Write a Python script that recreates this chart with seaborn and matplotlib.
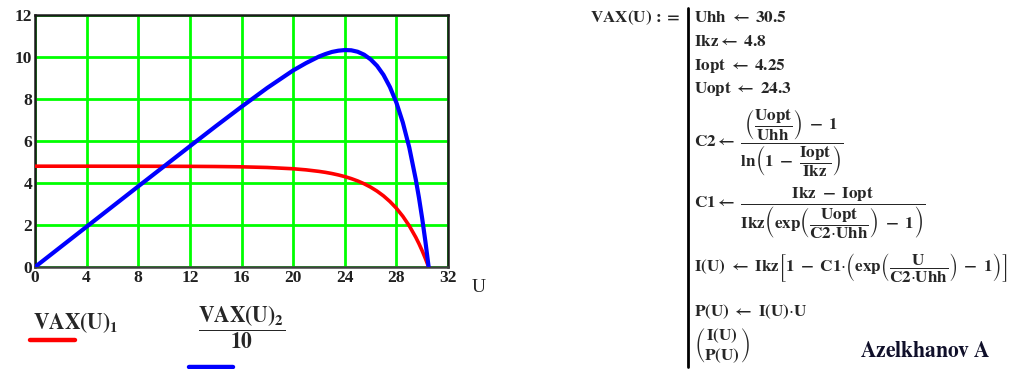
import numpy as np
import pandas as pd
import matplotlib
matplotlib.use("Agg")
import matplotlib.pyplot as plt
from matplotlib.lines import Line2D
import seaborn as sns

# Data (U in volts)
U_vals = [0, 4, 8, 12, 14, 16, 18, 20, 21, 22, 22.5, 23, 23.5, 24, 24.5, 25, 25.5, 26, 26.5,
          27, 27.5, 28, 28.5, 29, 29.5, 29.75, 30, 30.25, 30.5]
I_vals = [4.80, 4.80, 4.798, 4.793, 4.785, 4.770, 4.739, 4.678, 4.626, 4.553, 4.507, 4.451,
          4.384, 4.305, 4.210, 4.098, 3.963, 3.804, 3.614, 3.388, 3.118, 2.798, 2.414, 1.961,
          1.418, 1.110, 0.771, 0.400, 0.0]
P10_vals = [0.0, 1.92, 3.84, 5.75, 6.70, 7.63, 8.53, 9.36, 9.71, 10.02, 10.14, 10.24, 10.30,
            10.33, 10.32, 10.25, 10.11, 9.89, 9.58, 9.15, 8.57, 7.83, 6.88, 5.69, 4.18, 3.30,
            2.31, 1.21, 0.0]
x_ticks = [0, 4, 8, 12, 16, 20, 24, 28, 32]
y_ticks = [0, 2, 4, 6, 8, 10, 12]

df = pd.DataFrame({"U": U_vals, "I": I_vals, "P10": P10_vals})

sns.set_style("white")
plt.rcParams["font.family"] = ["Liberation Serif", "DejaVu Serif"]
plt.rcParams["mathtext.fontset"] = "stix"
plt.rcParams["mathtext.default"] = "bf"

W, H = 1024, 369
fig = plt.figure(figsize=(W / 100, H / 100), dpi=100)
ax = fig.add_axes([35 / W, 1 - 267 / H, (448 - 35) / W, (267 - 15) / H])

sns.lineplot(data=df, x="U", y="I", ax=ax, color="#ff0000", lw=2.6, zorder=3)
sns.lineplot(data=df, x="U", y="P10", ax=ax, color="#0000ff", lw=3.0, zorder=4)

ax.set_xlim(0, 32)
ax.set_ylim(0, 12)
ax.set_xticks(x_ticks)
ax.set_yticks(y_ticks)
ax.set_xticklabels([str(t) for t in x_ticks], fontsize=12.5, fontweight="bold", color="#202020")
ax.set_yticklabels([str(t) for t in y_ticks], fontsize=12.5, fontweight="bold", color="#202020")
ax.tick_params(axis="y", length=0, pad=2)
ax.tick_params(axis="x", length=0, pad=2)
ax.set_xlabel("")
ax.set_ylabel("")
ax.grid(True, color="#00ff00", lw=2)
ax.set_axisbelow(True)
for s in ax.spines.values():
    s.set_color("#1a1a1a")
    s.set_linewidth(1.8)
ax.spines["bottom"].set_color("#404040")

def fx(x):
    return x / W

def fy(y):
    return 1 - y / H

fig.text(fx(472), fy(287), "U", fontsize=14, ha="left", va="center")

# legend-like labels under the plot
fig.text(fx(33), fy(323), r"$VAX(U)_1$", fontsize=15.5, ha="left", va="center")
fig.add_artist(Line2D([fx(30), fx(75)], [fy(340), fy(340)], color="#ff0000", lw=3.2))
fig.text(fx(242), fy(327), r"$\dfrac{VAX(U)_2}{10}$", fontsize=15.5, ha="center", va="center")
fig.add_artist(Line2D([fx(189), fx(233)], [fy(367), fy(367)], color="#0000ff", lw=3.2))

# Program block on the right
fs = 12.3
dot = r"{\mathrm{\cdot}}"
fig.text(fx(590), fy(18), r"$VAX(U)\,:=$", fontsize=fs, ha="left", va="center")
fig.add_artist(Line2D([fx(688), fx(688)], [fy(8), fy(367)], color="black", lw=2))
fig.text(fx(694), fy(18), r"$Uhh\ \leftarrow\ 30.5$", fontsize=fs, ha="left", va="center")
fig.text(fx(694), fy(42), r"$Ikz\leftarrow\ 4.8$", fontsize=fs, ha="left", va="center")
fig.text(fx(694), fy(66), r"$Iopt\ \leftarrow\ 4.25$", fontsize=fs, ha="left", va="center")
fig.text(fx(694), fy(89), r"$Uopt\ \leftarrow\ 24.3$", fontsize=fs, ha="left", va="center")
fig.text(fx(694), fy(143),
         r"$C2\leftarrow\ \dfrac{\left(\dfrac{Uopt}{Uhh}\right)\ -\ 1}{ln\left(1\ -\ \dfrac{Iopt}{Ikz}\right)}$",
         fontsize=fs, ha="left", va="center")
fig.text(fx(694), fy(213),
         r"$C1\leftarrow\ \dfrac{Ikz\ -\ Iopt}{Ikz\left(exp\left(\dfrac{Uopt}{C2" + dot + r"Uhh}\right)\ -\ 1\right)}$",
         fontsize=fs, ha="left", va="center")
fig.text(fx(694), fy(267),
         r"$I(U)\ \leftarrow\ Ikz\left[1\ -\ C1" + dot + r"\left(exp\left(\dfrac{U}{C2" + dot +
         r"Uhh}\right)\ -\ 1\right)\right]$",
         fontsize=fs, ha="left", va="center")
fig.text(fx(694), fy(312), r"$P(U)\ \leftarrow\ I(U)" + dot + r"U$", fontsize=fs, ha="left", va="center")
fig.text(fx(694), fy(346), r"$\genfrac{(}{)}{0}{0}{I(U)}{P(U)}$", fontsize=fs, ha="left", va="center")
fig.text(fx(860), fy(352), r"$Azelkhanov\ A$", fontsize=15.5,
         color="#10102a", ha="left", va="center")

fig.savefig("out.png", dpi=100, facecolor="white")
